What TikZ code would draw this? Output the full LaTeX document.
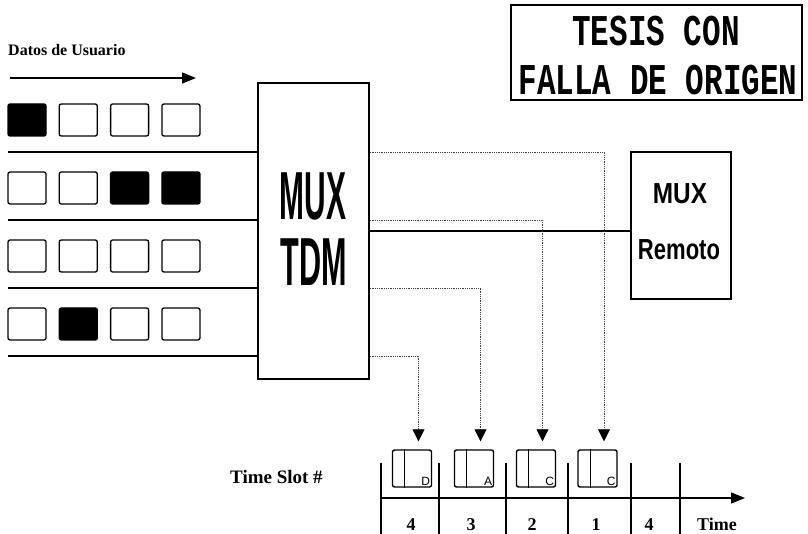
\documentclass[tikz,border=0pt]{standalone}
\usepackage{fontspec}
\setmainfont{Liberation Serif}
\newfontfamily\typefont{Liberation Mono}
\newfontfamily\muxfont{Liberation Sans}
\usetikzlibrary{arrows.meta,positioning}

\begin{document}
\begin{tikzpicture}[x=1pt,y=-1pt,>={Triangle[length=12pt,width=12pt,color=black]},node distance=12pt,
  every node/.style={align=center,inner sep=0pt},
  sq/.style={draw,line width=1.3pt,rounded corners=2pt,minimum width=38pt,minimum height=32pt},
  full/.style={sq,fill=black},
  slot/.style={draw,line width=1.4pt,rounded corners=2pt,minimum width=39pt,minimum height=37pt},
  link/.style={densely dotted,line width=0.8pt,black!75},
  tick/.style={line width=1.4pt},
  lbl/.style={font=\fontsize{18}{18}\selectfont\bfseries}]
  \useasboundingbox (0,0) rectangle (808,534);

  % sello
  \node[draw,line width=1.3pt,minimum width=291pt,minimum height=95pt] (tesis) at (656.5,52.5) {};
  \node (sello1) at (656,31) {\typefont\bfseries\fontsize{36}{36}\selectfont\scalebox{0.86}[1.22]{TESIS CON}};
  \node (sello2) at (658,80) {\typefont\bfseries\fontsize{36}{36}\selectfont\scalebox{0.86}[1.22]{FALLA DE ORIGEN}};

  % datos de usuario
  \node[anchor=west,font=\fontsize{16}{16}\selectfont\bfseries] (datos) at (8,50) {Datos de Usuario};
  \coordinate (a0) at (10,78); \coordinate (a1) at (196,78);
  \draw[tick,-{Triangle[length=14pt,width=11pt]}] (a0) -- (a1);

  \node[full] (s11) at (27,120) {}; \node[sq,right=of s11] (s12) {}; \node[sq,right=of s12] (s13) {}; \node[sq,right=of s13] (s14) {};
  \node[sq] (s21) at (27,188) {}; \node[sq,right=of s21] (s22) {}; \node[full,right=of s22] (s23) {}; \node[full,right=of s23] (s24) {};
  \node[sq] (s31) at (27,256) {}; \node[sq,right=of s31] (s32) {}; \node[sq,right=of s32] (s33) {}; \node[sq,right=of s33] (s34) {};
  \node[sq] (s41) at (27,324) {}; \node[full,right=of s41] (s42) {}; \node[sq,right=of s42] (s43) {}; \node[sq,right=of s43] (s44) {};

  % multiplexores
  \node[draw,line width=1.4pt,minimum width=111pt,minimum height=296pt] (mux) at (313.5,231) {};
  \node (muxt) at (313,196) {\muxfont\bfseries\fontsize{68}{68}\selectfont\scalebox{0.44}[1]{MUX}};
  \node (tdmt) at (314,262) {\muxfont\bfseries\fontsize{68}{68}\selectfont\scalebox{0.45}[1]{TDM}};
  \node[draw,line width=1.4pt,minimum width=100pt,minimum height=147pt] (rem) at (681,225.5) {};
  \node (remt1) at (680,194) {\muxfont\bfseries\fontsize{29}{29}\selectfont\scalebox{0.84}[1]{MUX}};
  \node (remt2) at (679,250) {\muxfont\bfseries\fontsize{29}{29}\selectfont\scalebox{0.76}[1]{Remoto}};
  \draw[tick] (mux.east) -- (mux.east -| rem.west);

  % time slots
  \node[slot] (c4) at (412,468.5) {}; \node[slot] (c3) at (474,468.5) {};
  \node[slot] (c2) at (536,468.5) {}; \node[slot] (c1) at (597.5,468.5) {};
  \foreach \c/\l in {c4/D,c3/A,c2/C,c1/C}{
    \draw[line width=1.3pt] ([xshift=13pt]\c.north west) -- ([xshift=13pt]\c.south west);
    \node[anchor=south east,inner sep=2pt,font=\muxfont\fontsize{12}{12}\selectfont] at (\c.south east) {\l};
    \coordinate (p\c) at ([xshift=6.5pt,yshift=8pt]\c.north);
  }

  % lineas de entrada
  \coordinate (r1) at (8,152); \coordinate (r2) at (8,220);
  \coordinate (r3) at (8,288); \coordinate (r4) at (8,356);
  \draw[tick] (r1) -- (r1 -| mux.west); \draw[tick] (r2) -- (r2 -| mux.west);
  \draw[tick] (r3) -- (r3 -| mux.west); \draw[tick] (r4) -- (r4 -| mux.west);
  \draw[link,->] (r1 -| mux.east) -| (pc1); \draw[link,->] (r2 -| mux.east) -| (pc2);
  \draw[link,->] (r3 -| mux.east) -| (pc3); \draw[link,->] (r4 -| mux.east) -| (pc4);

  % eje de tiempo
  \node[anchor=west,font=\fontsize{19}{19}\selectfont\bfseries] (slotlbl) at (230,477) {Time Slot \#};
  \coordinate (t0) at (381,498); \coordinate (t1) at (745,498);
  \draw[tick,-{Triangle[length=14pt,width=11pt]}] (t0) -- (t1);
  \foreach \x in {381,439,506,568,631,680} \draw[tick] (\x,463) -- (\x,534);
  \node[lbl,anchor=base] at (411,530) {4}; \node[lbl,anchor=base] at (471,530) {3};
  \node[lbl,anchor=base] at (532,530) {2}; \node[lbl,anchor=base] at (596,530) {1};
  \node[lbl,anchor=base] at (649,530) {4}; \node[lbl,anchor=base] at (717,530) {Time};
\end{tikzpicture}
\end{document}
